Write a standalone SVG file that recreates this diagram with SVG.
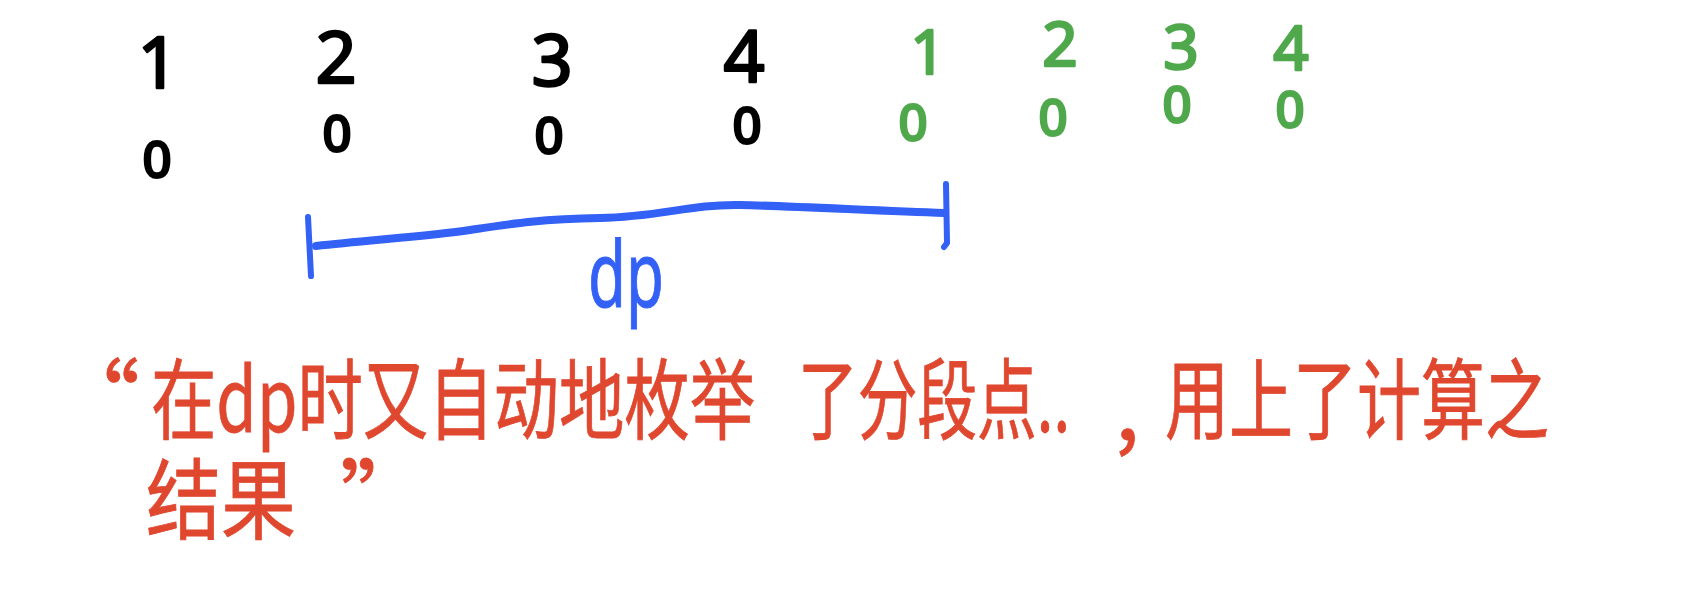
<svg xmlns="http://www.w3.org/2000/svg" width="1692" height="608" viewBox="0 0 1692 608">
<style>
.dig{font-family:"Noto Sans","DejaVu Sans",sans-serif;font-size:72px;text-anchor:middle;stroke-width:2.5px;stroke-linejoin:round}
.gd{font-size:62px}
.zero{font-family:"Noto Sans","DejaVu Sans",sans-serif;font-size:50px;text-anchor:middle;stroke-width:3px;stroke-linejoin:round}
.blk{fill:#000;stroke:#000}
.grn{fill:#4fa84b;stroke:#4fa84b}
.red{font-family:"Noto Sans CJK SC","Noto Sans",sans-serif;font-size:88px;fill:#e0472f;stroke:#e0472f;stroke-width:0.8px}
.blue{stroke:#3461f5;fill:none;stroke-linecap:round;stroke-linejoin:round}
</style>
<rect width="1692" height="608" fill="#fff"/>
<g id="black-items">
<text class="dig blk" x="158" y="88">1</text>
<text class="zero blk" x="157" y="177">0</text>
<text class="dig blk" x="336" y="83">2</text>
<text class="zero blk" x="337" y="151">0</text>
<text class="dig blk" x="552" y="86">3</text>
<text class="zero blk" x="549" y="153">0</text>
<text class="dig blk" x="744" y="82">4</text>
<text class="zero blk" x="747" y="143">0</text>
</g>
<g id="green-items">
<text class="dig gd grn" x="928" y="74">1</text>
<text class="zero grn" x="913" y="140">0</text>
<text class="dig gd grn" x="1060" y="66">2</text>
<text class="zero grn" x="1053" y="135">0</text>
<text class="dig gd grn" x="1181" y="69">3</text>
<text class="zero grn" x="1177" y="122">0</text>
<text class="dig gd grn" x="1291" y="70">4</text>
<text class="zero grn" x="1290" y="127">0</text>
</g>
<g id="dp-bracket">
<path class="blue" stroke-width="6" d="M308,217 L311,276"/>
<path class="blue" stroke-width="8" d="M316,246 C370,240 430,236 470,230 S540,219 600,218 S690,204 740,205 S880,211 944,213"/>
<path class="blue" stroke-width="6" d="M946,184 L947,243 L944,247"/>
<text x="626" y="307" text-anchor="middle" textLength="76" lengthAdjust="spacingAndGlyphs" style="font-family:'Noto Sans','DejaVu Sans',sans-serif;font-size:92px;fill:#3461f5;stroke:#3461f5;stroke-width:1px">dp</text>
</g>
<g id="note">
<text class="red" x="140" y="432" text-anchor="end">“</text>
<text class="red" x="151" y="432" textLength="604" lengthAdjust="spacingAndGlyphs">在dp时又自动地枚举</text>
<text class="red" x="798" y="432" textLength="272" lengthAdjust="spacingAndGlyphs">了分段点..</text>
<text class="red" x="1115" y="440">,</text>
<text class="red" x="1165" y="432" textLength="384" lengthAdjust="spacingAndGlyphs">用上了计算之</text>
<text class="red" x="146" y="532" textLength="150" lengthAdjust="spacingAndGlyphs">结果</text>
<text class="red" x="340" y="532">”</text>
</g>
</svg>
